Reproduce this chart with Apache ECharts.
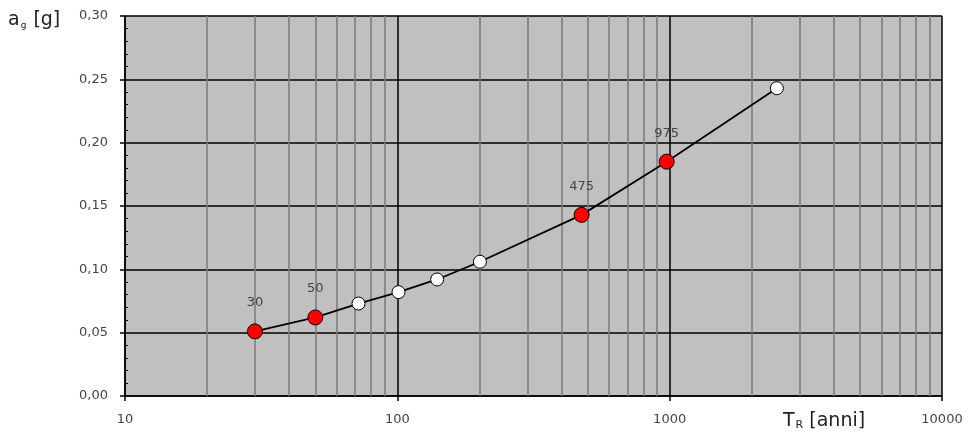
<!DOCTYPE html>
<html><head><meta charset="utf-8">
<script src="https://cdn.jsdelivr.net/npm/echarts@6/dist/echarts.min.js"></script>
<style>html,body{margin:0;padding:0;background:#fff}#c{width:971px;height:434px}</style>
</head><body><div id="c"></div>
<script>
// Return periods T_R [anni] and ag [g]
var periods = [30, 50, 72, 101, 140, 201, 475, 975, 2475];
var agValues = [0.051, 0.062, 0.073, 0.082, 0.092, 0.106, 0.143, 0.185, 0.243];
var highlighted = [true, true, false, false, false, false, true, true, false];
var minorXLines = [20,30,40,50,60,70,80,90,200,300,400,500,600,700,800,900,2000,3000,4000,5000,6000,7000,8000,9000];

var FONT = 'DejaVu Sans';
var chart = echarts.init(document.getElementById('c'));
var pts = periods.map(function (t, i) {
  return {
    value: [t, agValues[i]],
    symbolSize: highlighted[i] ? 15 : 13,
    itemStyle: { color: highlighted[i] ? '#ff0000' : '#ffffff', borderColor: '#000', borderWidth: 1 },
    label: { show: highlighted[i], formatter: String(t) }
  };
});
chart.setOption({
  animation: false,
  grid: { left: 125, right: 29, top: 16, bottom: 38, show: true, backgroundColor: '#c0c0c0', borderWidth: 0 },
  xAxis: {
    type: 'log', logBase: 10, min: 10, max: 10000, z: 2,
    axisLine: { show: true, onZero: false, lineStyle: { color: '#000', width: 1.5 } },
    axisTick: { show: true, length: 5, lineStyle: { color: '#000', width: 1.5 } },
    axisLabel: { color: '#444', fontFamily: FONT, fontSize: 13, margin: 17,
      formatter: function (v) { return String(Math.round(v)); } },
    splitLine: { show: true, lineStyle: { color: '#000', width: 1.5 } }
  },
  yAxis: [{
    type: 'value', min: 0, max: 0.30, interval: 0.05, z: 2,
    axisLine: { show: true, lineStyle: { color: '#000', width: 1.5 } },
    axisTick: { show: true, length: 5, lineStyle: { color: '#000', width: 1.5 } },
    axisLabel: { color: '#444', fontFamily: FONT, fontSize: 13, margin: 17,
      formatter: function (v) { return v.toFixed(2).replace('.', ','); } },
    splitLine: { show: true, lineStyle: { color: '#000', width: 1.5 } }
  }, {
    type: 'value', min: 0, max: 0.30, interval: 0.05, position: 'left', z: 2,
    axisLine: { show: false },
    axisTick: { show: false, inside: true },
    minorTick: { show: true, splitNumber: 5, length: 3, lineStyle: { color: '#000', width: 1 } },
    axisLabel: { show: false }, splitLine: { show: false }
  }],
  series: [{
    type: 'line', z: 1, data: [], silent: true,
    markLine: {
      silent: true, symbol: 'none', animation: false,
      label: { show: false },
      lineStyle: { color: '#7a7a7a', width: 1.5, type: 'solid' },
      data: minorXLines.map(function (v) { return { xAxis: v }; })
    }
  }, {
    type: 'line', z: 5, data: pts, symbol: 'circle',
    lineStyle: { color: '#000', width: 1.8 },
    label: { position: 'top', distance: 14, color: '#444', fontFamily: FONT, fontSize: 13 }
  }],
  graphic: [{
    type: 'text', left: 8, top: 11,
    style: { text: '{a|a}{s|g}{a| [g]}', rich: {
      a: { fontFamily: FONT, fontSize: 19, fill: '#222' },
      s: { fontFamily: FONT, fontSize: 9, fill: '#222', verticalAlign: 'bottom', padding: [8, 1, 0, 1] } } }
  }, {
    type: 'text', left: 783, top: 412,
    style: { text: '{a|T}{s|R}{a| [anni]}', rich: {
      a: { fontFamily: FONT, fontSize: 19, fill: '#222' },
      s: { fontFamily: FONT, fontSize: 11, fill: '#222', verticalAlign: 'bottom', padding: [7, 0, 0, 1] } } }
  }]
});
</script></body></html>
